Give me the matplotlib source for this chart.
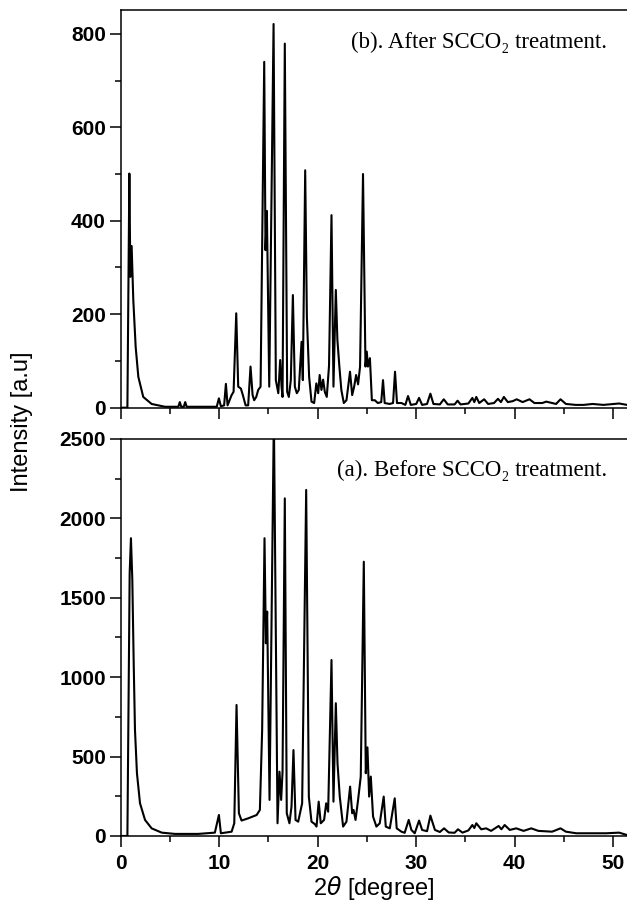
import matplotlib
matplotlib.use("Agg")
import matplotlib.pyplot as plt
from matplotlib.ticker import MultipleLocator

# traced XRD patterns (2-theta in degrees, intensity in a.u.)
two_theta_after = [
    0.0, 0.68, 0.88, 0.98, 1.11, 1.28, 1.52, 1.79, 2.29, 3.14,
    4.5, 5.85, 6.0, 6.15, 6.4, 6.55, 6.7, 9.75, 9.97, 10.17,
    10.5, 10.68, 10.85, 11.26, 11.46, 11.73, 11.93, 12.2, 12.4, 12.68,
    12.94, 13.18, 13.39, 13.55, 13.76, 13.96, 14.2, 14.57, 14.7, 14.84,
    15.08, 15.52, 15.75, 16.0, 16.19, 16.33, 16.43, 16.66, 16.9, 17.07,
    17.27, 17.48, 17.68, 17.88, 18.08, 18.36, 18.49, 18.73, 18.9, 19.13,
    19.37, 19.64, 19.86, 20.05, 20.2, 20.38, 20.55, 20.72, 20.92, 21.15,
    21.4, 21.6, 21.84, 22.0, 22.2, 22.4, 22.65, 22.92, 23.28, 23.5,
    23.7, 23.9, 24.1, 24.3, 24.6, 24.85, 24.98, 25.1, 25.3, 25.5,
    25.8, 26.1, 26.45, 26.63, 26.8, 27.3, 27.65, 27.85, 28.05, 28.5,
    28.9, 29.17, 29.45, 30.0, 30.29, 30.6, 31.1, 31.44, 31.75, 32.4,
    32.8, 33.2, 33.9, 34.2, 34.5, 35.3, 35.7, 35.9, 36.1, 36.4,
    36.9, 37.3, 37.9, 38.3, 38.6, 38.9, 39.3, 39.8, 40.2, 40.8,
    41.5, 42.0, 42.8, 43.2, 44.2, 44.65, 45.2, 46.2, 47.0, 47.9,
    49.0, 50.6, 51.4,
]
counts_after = [
    0, 0, 501, 280, 346, 230, 130, 66, 23, 8,
    2, 2, 12, 2, 2, 12, 2, 2, 20, 3,
    5, 51, 5, 27, 34, 202, 45, 41, 27, 5,
    5, 88, 27, 16, 23, 38, 45, 740, 337, 421,
    45, 821, 59, 31, 102, 45, 23, 779, 34, 23,
    59, 241, 45, 31, 38, 141, 59, 508, 195, 66,
    13, 10, 52, 31, 70, 38, 60, 34, 23, 90,
    412, 45, 252, 145, 88, 38, 10, 16, 77, 27,
    45, 70, 50, 88, 500, 88, 120, 88, 106, 16,
    16, 10, 12, 59, 10, 8, 10, 77, 10, 10,
    6, 25, 6, 8, 21, 6, 8, 30, 8, 7,
    18, 7, 7, 15, 7, 9, 21, 12, 23, 10,
    18, 8, 10, 19, 12, 23, 12, 14, 18, 12,
    18, 10, 10, 13, 8, 18, 8, 6, 6, 8,
    6, 9, 6,
]

two_theta_before = [
    0.0, 0.68, 0.91, 1.04, 1.18, 1.32, 1.45, 1.65, 1.96, 2.47,
    3.14, 4.16, 5.5, 7.87, 9.56, 9.97, 10.17, 11.26, 11.53, 11.76,
    12.0, 12.27, 12.94, 13.8, 14.13, 14.36, 14.6, 14.74, 14.87, 15.11,
    15.55, 15.92, 16.12, 16.29, 16.43, 16.66, 16.86, 17.13, 17.34, 17.54,
    17.75, 18.02, 18.42, 18.83, 19.1, 19.37, 19.7, 19.88, 20.1, 20.31,
    20.65, 20.86, 21.06, 21.4, 21.6, 21.84, 22.01, 22.24, 22.58, 22.92,
    23.29, 23.5, 23.64, 23.84, 24.1, 24.37, 24.68, 24.88, 25.05, 25.22,
    25.39, 25.62, 25.96, 26.3, 26.7, 26.91, 27.32, 27.82, 28.02, 28.5,
    28.83, 29.24, 29.51, 29.85, 30.29, 30.6, 31.1, 31.44, 31.9, 32.4,
    32.83, 33.3, 33.9, 34.24, 34.7, 35.3, 35.7, 35.9, 36.1, 36.6,
    37.1, 37.6, 38.37, 38.65, 38.98, 39.5, 40.16, 40.9, 41.68, 42.4,
    43.8, 44.65, 45.2, 46.25, 47.8, 49.3, 50.6, 51.4,
]
counts_before = [
    0, 0, 1654, 1875, 1612, 1087, 667, 395, 206, 101,
    48, 21, 13, 13, 21, 132, 17, 27, 80, 825,
    143, 97, 111, 132, 164, 667, 1875, 1213, 1413, 227,
    2650, 80, 405, 227, 405, 2126, 143, 80, 185, 541,
    101, 90, 206, 2179, 248, 90, 75, 59, 216, 80,
    101, 206, 153, 1108, 216, 836, 458, 248, 59, 90,
    311, 143, 164, 101, 227, 374, 1727, 395, 558, 248,
    374, 122, 59, 80, 248, 59, 48, 237, 48, 27,
    20, 101, 38, 17, 97, 38, 30, 128, 38, 25,
    48, 22, 20, 42, 21, 35, 69, 50, 80, 42,
    48, 32, 63, 42, 69, 38, 48, 32, 48, 32,
    27, 48, 27, 17, 17, 17, 21, 6,
]

label_after = "(b). After SCCO\u2082 treatment."
label_before = "(a). Before SCCO\u2082 treatment."

SERIF = ["Liberation Serif", "DejaVu Serif"]
SANS = ["Liberation Sans", "DejaVu Sans"]


def style_axis(ax, ymax, major, minor, show_xlabels):
    ax.set_xlim(0, 51.4)
    ax.set_ylim(0, ymax)
    ax.xaxis.set_major_locator(MultipleLocator(10))
    ax.xaxis.set_minor_locator(MultipleLocator(5))
    ax.yaxis.set_major_locator(MultipleLocator(major))
    ax.yaxis.set_minor_locator(MultipleLocator(minor))
    ax.tick_params(which="major", direction="out", length=7.7, width=1.1,
                   labelsize=15, pad=3)
    ax.tick_params(which="minor", direction="out", length=4, width=1.1)
    ax.tick_params(axis="x", labelbottom=show_xlabels, pad=5)
    ax.spines["right"].set_visible(False)
    for side in ("left", "top", "bottom"):
        ax.spines[side].set_linewidth(1.1)
    for lab in ax.get_xticklabels() + ax.get_yticklabels():
        lab.set_fontweight("bold")
        lab.set_family(SANS)


fig = plt.figure(figsize=(6.27, 9.06), dpi=100)
ax_top = fig.add_axes([0.1925, 0.550, 0.8075, 0.439])
ax_bot = fig.add_axes([0.1925, 0.0773, 0.8075, 0.4382])

ax_top.plot(two_theta_after, counts_after, color="black", linewidth=1.5)
ax_bot.plot(two_theta_before, counts_before, color="black", linewidth=1.5)

style_axis(ax_top, 851, 200, 100, False)
style_axis(ax_bot, 2500, 500, 250, True)

ax_top.text(0.9605, 0.918, label_after, transform=ax_top.transAxes,
            ha="right", va="center", fontsize=16.5, family=SERIF)
ax_bot.text(0.9605, 0.922, label_before, transform=ax_bot.transAxes,
            ha="right", va="center", fontsize=16.5, family=SERIF)

ax_bot.set_xlabel(r"2$\theta$ [degree]", fontsize=17, family=SANS, labelpad=1)
fig.text(0.035, 0.534, "Intensity [a.u]", rotation=90, ha="center",
         va="center", fontsize=17, family=SANS)

fig.savefig("out.png", dpi=100)
